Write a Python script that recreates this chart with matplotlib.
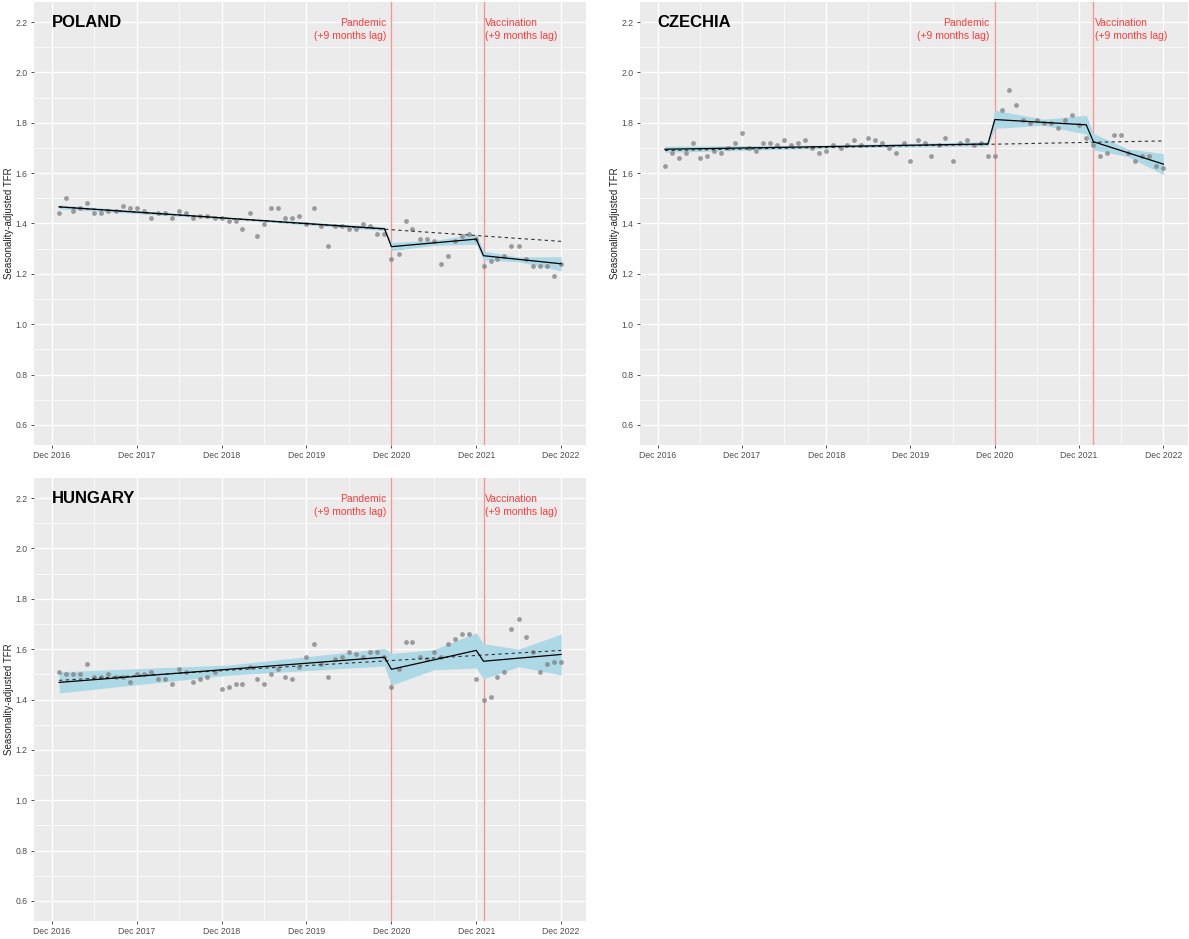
import matplotlib.pyplot as plt
import numpy as np
import pandas as pd

plt.rcParams['font.family'] = ['Liberation Sans', 'DejaVu Sans']

months = pd.date_range('2017-01-01', periods=72, freq='MS')

# monthly seasonality-adjusted TFR, Jan 2017 - Dec 2022
poland_tfr = [1.44, 1.50, 1.45, 1.46, 1.48, 1.44, 1.44, 1.45, 1.45, 1.47, 1.46, 1.46,
              1.45, 1.42, 1.44, 1.44, 1.42, 1.45, 1.44, 1.42, 1.43, 1.43, 1.42, 1.42,
              1.41, 1.41, 1.38, 1.44, 1.35, 1.40, 1.46, 1.46, 1.42, 1.42, 1.43, 1.40,
              1.46, 1.39, 1.31, 1.39, 1.39, 1.38, 1.38, 1.40, 1.39, 1.36, 1.36, 1.26,
              1.28, 1.41, 1.38, 1.34, 1.34, 1.33, 1.24, 1.27, 1.33, 1.35, 1.36, 1.34,
              1.23, 1.25, 1.26, 1.27, 1.31, 1.31, 1.26, 1.23, 1.23, 1.23, 1.19, 1.24]
czechia_tfr = [1.63, 1.68, 1.66, 1.68, 1.72, 1.66, 1.67, 1.69, 1.68, 1.70, 1.72, 1.76,
               1.70, 1.69, 1.72, 1.72, 1.71, 1.73, 1.71, 1.72, 1.73, 1.70, 1.68, 1.69,
               1.71, 1.70, 1.71, 1.73, 1.71, 1.74, 1.73, 1.72, 1.70, 1.68, 1.72, 1.65,
               1.73, 1.72, 1.67, 1.71, 1.74, 1.65, 1.72, 1.73, 1.71, 1.72, 1.67, 1.67,
               1.85, 1.93, 1.87, 1.81, 1.80, 1.81, 1.80, 1.80, 1.78, 1.81, 1.83, 1.79,
               1.74, 1.71, 1.67, 1.68, 1.75, 1.75, 1.68, 1.65, 1.67, 1.67, 1.63, 1.62]
hungary_tfr = [1.51, 1.50, 1.50, 1.50, 1.54, 1.49, 1.49, 1.50, 1.49, 1.49, 1.47, 1.50,
               1.50, 1.51, 1.48, 1.48, 1.46, 1.52, 1.51, 1.47, 1.48, 1.49, 1.51, 1.44,
               1.45, 1.46, 1.46, 1.53, 1.48, 1.46, 1.50, 1.52, 1.49, 1.48, 1.53, 1.57,
               1.62, 1.54, 1.49, 1.56, 1.57, 1.59, 1.58, 1.57, 1.59, 1.59, 1.57, 1.45,
               1.52, 1.63, 1.63, 1.57, 1.56, 1.59, 1.57, 1.62, 1.64, 1.66, 1.66, 1.48,
               1.40, 1.41, 1.49, 1.51, 1.68, 1.72, 1.65, 1.59, 1.51, 1.54, 1.55, 1.55]

# segmented regression fit (knots)
poland_fit_dates = ['2017-01', '2020-11', '2020-12', '2021-12', '2022-01', '2022-12']
poland_fit = [1.466, 1.379, 1.308, 1.338, 1.272, 1.240]
czechia_fit_dates = ['2017-01', '2020-11', '2020-12', '2022-01', '2022-02', '2022-12']
czechia_fit = [1.695, 1.716, 1.813, 1.792, 1.725, 1.636]
hungary_fit_dates = ['2017-01', '2020-11', '2020-12', '2021-12', '2022-01', '2022-12']
hungary_fit = [1.468, 1.568, 1.520, 1.595, 1.552, 1.579]

# confidence band
poland_band_dates = ['2017-01', '2019-01', '2020-11', '2020-12', '2021-06', '2021-12',
                     '2022-01', '2022-06', '2022-12']
poland_lo = [1.458, 1.417, 1.372, 1.292, 1.313, 1.318, 1.255, 1.248, 1.212]
poland_hi = [1.474, 1.425, 1.387, 1.325, 1.333, 1.358, 1.290, 1.267, 1.268]
czechia_band_dates = ['2017-01', '2019-01', '2020-11', '2020-12', '2021-07', '2022-01',
                      '2022-02', '2022-07', '2022-12']
czechia_lo = [1.683, 1.700, 1.707, 1.778, 1.790, 1.755, 1.693, 1.666, 1.594]
czechia_hi = [1.707, 1.712, 1.725, 1.850, 1.814, 1.830, 1.758, 1.696, 1.678]
hungary_band_dates = ['2017-01', '2019-01', '2020-11', '2020-12', '2021-06', '2021-12',
                      '2022-01', '2022-06', '2022-12']
hungary_lo = [1.426, 1.497, 1.533, 1.457, 1.518, 1.525, 1.482, 1.530, 1.498]
hungary_hi = [1.510, 1.537, 1.603, 1.583, 1.598, 1.665, 1.622, 1.600, 1.660]

# counterfactual (pre-pandemic trend)
cf_dates = ['2017-01', '2022-12']
poland_cf = [1.466, 1.329]
czechia_cf = [1.690, 1.728]
hungary_cf = [1.476, 1.595]

pandemic = '2020-12'
poland_vacc = '2022-01'
czechia_vacc = '2022-02'
hungary_vacc = '2022-01'

RED = '#FF3B3B'


def draw_panel(rect, name, tfr, fit_dates, fit, band_dates, lo, hi, cf, vacc):
    ax = fig.add_axes(rect)
    ax.set_facecolor('#EBEBEB')
    for s in ax.spines.values():
        s.set_visible(False)

    ax.set_xlim(pd.Timestamp('2016-09-15'), pd.Timestamp('2023-03-18'))
    ax.set_ylim(0.52, 2.28)
    xt = pd.date_range('2016-12-01', '2022-12-01', freq='12MS')
    ax.set_xticks(xt)
    ax.set_xticklabels([d.strftime('Dec %Y') for d in xt])
    ax.set_xticks(pd.date_range('2017-06-01', '2022-06-01', freq='12MS'), minor=True)
    ax.set_yticks(np.arange(0.6, 2.21, 0.2))
    ax.set_yticklabels([f'{v:.1f}' for v in np.arange(0.6, 2.21, 0.2)])
    ax.set_yticks(np.arange(0.7, 2.11, 0.2), minor=True)
    ax.grid(which='major', color='white', lw=1.0)
    ax.grid(which='minor', color='white', lw=0.5)
    ax.set_axisbelow(True)
    ax.tick_params(which='major', length=2.5, width=0.6, color='#333333',
                   labelsize=6.2, labelcolor='#4D4D4D', pad=2)
    ax.tick_params(which='minor', length=0)
    ax.set_ylabel('Seasonality-adjusted TFR', fontsize=7, color='#222222', labelpad=1)

    for d in [pandemic, vacc]:
        ax.axvline(pd.Timestamp(d), color='#F19A94', lw=1.0, zorder=1)

    ax.fill_between(pd.to_datetime(band_dates), lo, hi, color='#ADD8E6', lw=0, zorder=2)
    ax.scatter(months, tfr, s=12, color='#7F7F7F', alpha=0.75, lw=0, zorder=3)
    ax.plot(pd.to_datetime(cf_dates), cf, color='#333333', lw=0.8, ls=(0, (3, 3)), zorder=4)
    ax.plot(pd.to_datetime(fit_dates), fit, color='black', lw=0.9, zorder=5)

    ax.text(pd.Timestamp('2016-12-01'), 2.2, name, fontsize=12, fontweight='bold',
            ha='left', va='center')
    ax.annotate('Pandemic\n(+9 months lag)', xy=(pd.Timestamp(pandemic), 2.171),
                xytext=(-4, 0), textcoords='offset points', ha='right', va='center',
                fontsize=7.5, color=RED, linespacing=1.35)
    ax.annotate('Vaccination\n(+9 months lag)', xy=(pd.Timestamp(vacc), 2.171),
                xytext=(1, 0), textcoords='offset points', ha='left', va='center',
                fontsize=7.5, color=RED, linespacing=1.35)
    return ax


fig = plt.figure(figsize=(11.89, 9.39), dpi=100)
W, H = 1189, 939
draw_panel([34 / W, (H - 445) / H, 552 / W, 443 / H], 'POLAND', poland_tfr,
           poland_fit_dates, poland_fit, poland_band_dates, poland_lo, poland_hi,
           poland_cf, poland_vacc)
draw_panel([640 / W, (H - 445) / H, 548 / W, 443 / H], 'CZECHIA', czechia_tfr,
           czechia_fit_dates, czechia_fit, czechia_band_dates, czechia_lo, czechia_hi,
           czechia_cf, czechia_vacc)
draw_panel([34 / W, (H - 921) / H, 552 / W, 443 / H], 'HUNGARY', hungary_tfr,
           hungary_fit_dates, hungary_fit, hungary_band_dates, hungary_lo, hungary_hi,
           hungary_cf, hungary_vacc)

fig.savefig('out.png', dpi=100)
